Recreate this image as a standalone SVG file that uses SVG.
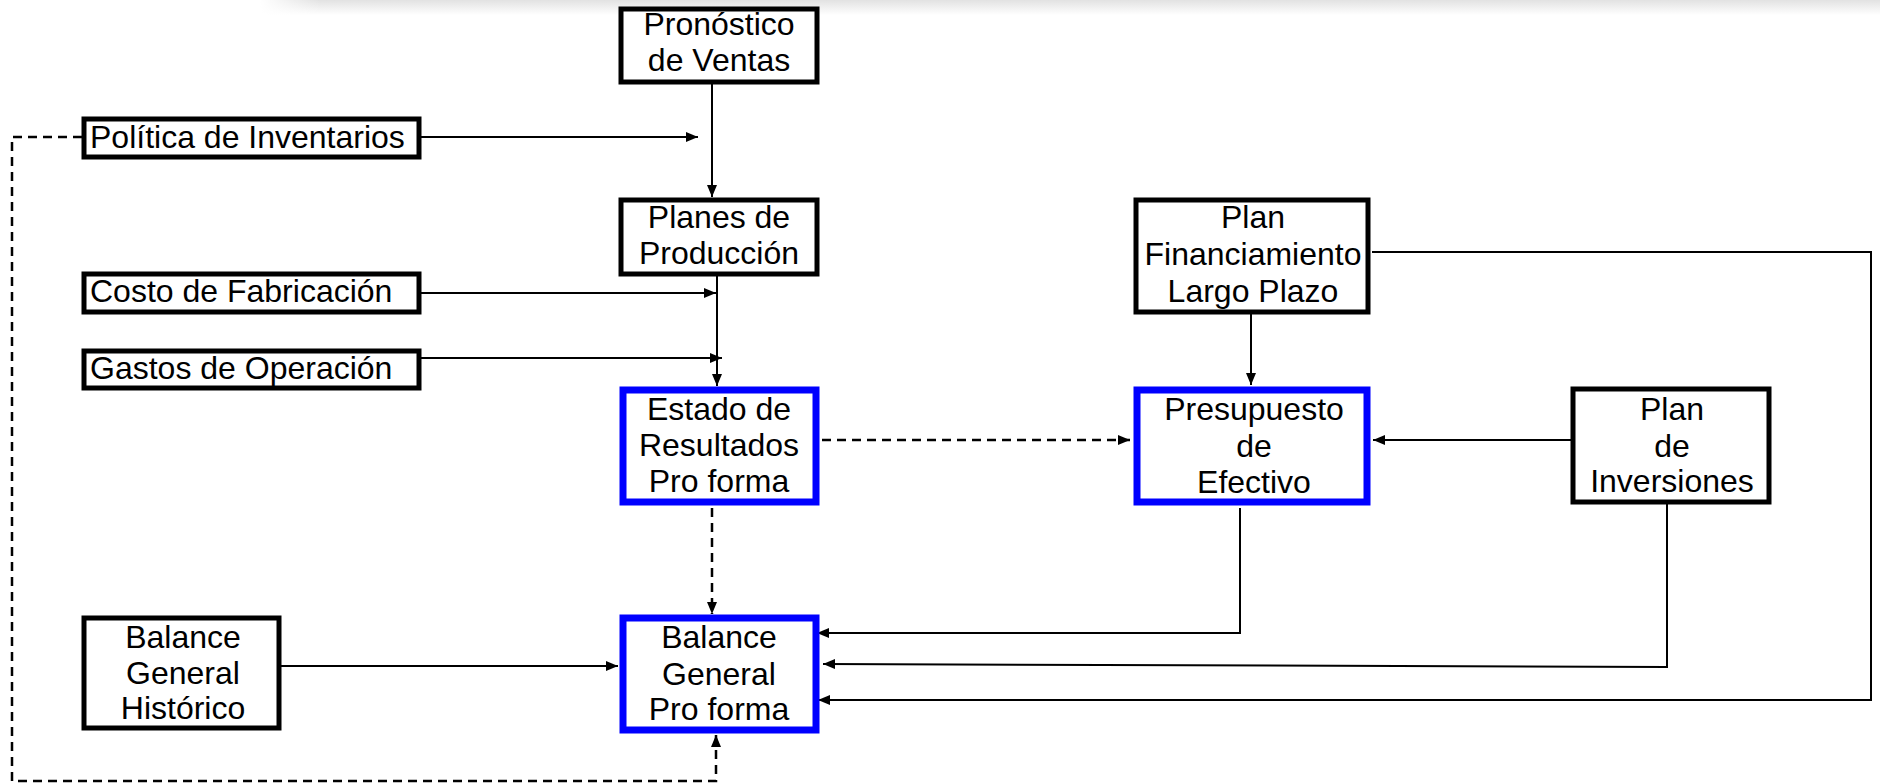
<svg xmlns="http://www.w3.org/2000/svg" width="1880" height="784" viewBox="0 0 1880 784">
<style>
.box{fill:#fff;stroke:#000;stroke-width:5}
.blue{fill:#fff;stroke:#0000ff;stroke-width:7}
.t{font-family:"Liberation Sans",Arial,sans-serif;font-size:32px;fill:#000;text-anchor:middle}
.tl{font-family:"Liberation Sans",Arial,sans-serif;font-size:32px;fill:#000;text-anchor:start}
.c{fill:none;stroke:#000;stroke-width:2}
.d{fill:none;stroke:#000;stroke-width:2.5;stroke-dasharray:9 6}
</style>
<defs>
<linearGradient id="band" x1="0" y1="0" x2="0" y2="1">
<stop offset="0" stop-color="#e2e2e2"/>
<stop offset="1" stop-color="#ffffff"/>
</linearGradient>
<linearGradient id="bandfade" x1="0" y1="0" x2="1" y2="0">
<stop offset="0" stop-color="#fff" stop-opacity="1"/>
<stop offset="1" stop-color="#fff" stop-opacity="0"/>
</linearGradient>
<marker id="ah" viewBox="0 0 12 10" refX="12" refY="5" markerWidth="12" markerHeight="10" markerUnits="userSpaceOnUse" orient="auto">
<path d="M0,0 L12,5 L0,10 Z" fill="#000"/>
</marker>
</defs>
<rect x="0" y="0" width="1880" height="784" fill="#fff"/>
<rect x="260" y="0" width="1620" height="15" fill="url(#band)"/>
<rect x="260" y="0" width="60" height="15" fill="url(#bandfade)"/>

<g id="connectors">
<path class="c" d="M712,84 V197" marker-end="url(#ah)"/>
<path class="c" d="M421,137 H698" marker-end="url(#ah)"/>
<path class="c" d="M717,276 V386" marker-end="url(#ah)"/>
<path class="c" d="M421,293 H716" marker-end="url(#ah)"/>
<path class="c" d="M403,358 H722" marker-end="url(#ah)"/>
<path class="d" d="M822,440 H1130" marker-end="url(#ah)"/>
<path class="d" d="M712,508 V614" marker-end="url(#ah)"/>
<path class="c" d="M1251,314 V385" marker-end="url(#ah)"/>
<path class="c" d="M1571,440 H1373" marker-end="url(#ah)"/>
<path class="c" d="M1240,508 V633 H817" marker-end="url(#ah)"/>
<path class="c" d="M1667,504 V667 L823,664" marker-end="url(#ah)"/>
<path class="c" d="M1372,252 H1871 V700 H818" marker-end="url(#ah)"/>
<path class="c" d="M281,666 H618" marker-end="url(#ah)"/>
<path class="d" d="M82,137 H12 V781 H716 V735" marker-end="url(#ah)"/>
</g>

<g id="pronostico">
<rect class="box" x="621" y="9" width="196" height="73"/>
<text class="t" x="719" y="35">Pronóstico</text>
<text class="t" x="719" y="71">de Ventas</text>
</g>
<g id="politica">
<rect class="box" x="84" y="119" width="335" height="38"/>
<text class="tl" x="90" y="148">Política de Inventarios</text>
</g>
<g id="planes">
<rect class="box" x="621" y="200" width="196" height="74"/>
<text class="t" x="719" y="228">Planes de</text>
<text class="t" x="719" y="264">Producción</text>
</g>
<g id="costo">
<rect class="box" x="84" y="274" width="335" height="38"/>
<text class="tl" x="90" y="302">Costo de Fabricación</text>
</g>
<g id="gastos">
<rect class="box" x="84" y="351" width="335" height="37"/>
<text class="tl" x="90" y="379">Gastos de Operación</text>
</g>
<g id="estado">
<rect class="blue" x="623" y="390" width="193" height="112"/>
<text class="t" x="719" y="420">Estado de</text>
<text class="t" x="719" y="456">Resultados</text>
<text class="t" x="719" y="492">Pro forma</text>
</g>
<g id="balance-proforma">
<rect class="blue" x="623" y="618" width="193" height="112"/>
<text class="t" x="719" y="648">Balance</text>
<text class="t" x="719" y="685">General</text>
<text class="t" x="719" y="720">Pro forma</text>
</g>
<g id="balance-historico">
<rect class="box" x="84" y="618" width="195" height="110"/>
<text class="t" x="183" y="648">Balance</text>
<text class="t" x="183" y="684">General</text>
<text class="t" x="183" y="719">Histórico</text>
</g>
<g id="plan-financiamiento">
<rect class="box" x="1136" y="200" width="232" height="112"/>
<text class="t" x="1253" y="228">Plan</text>
<text class="t" x="1253" y="265">Financiamiento</text>
<text class="t" x="1253" y="302">Largo Plazo</text>
</g>
<g id="presupuesto">
<rect class="blue" x="1137" y="390" width="230" height="112"/>
<text class="t" x="1254" y="420">Presupuesto</text>
<text class="t" x="1254" y="457">de</text>
<text class="t" x="1254" y="493">Efectivo</text>
</g>
<g id="plan-inversiones">
<rect class="box" x="1573" y="389" width="196" height="113"/>
<text class="t" x="1672" y="420">Plan</text>
<text class="t" x="1672" y="457">de</text>
<text class="t" x="1672" y="492">Inversiones</text>
</g>
</svg>
